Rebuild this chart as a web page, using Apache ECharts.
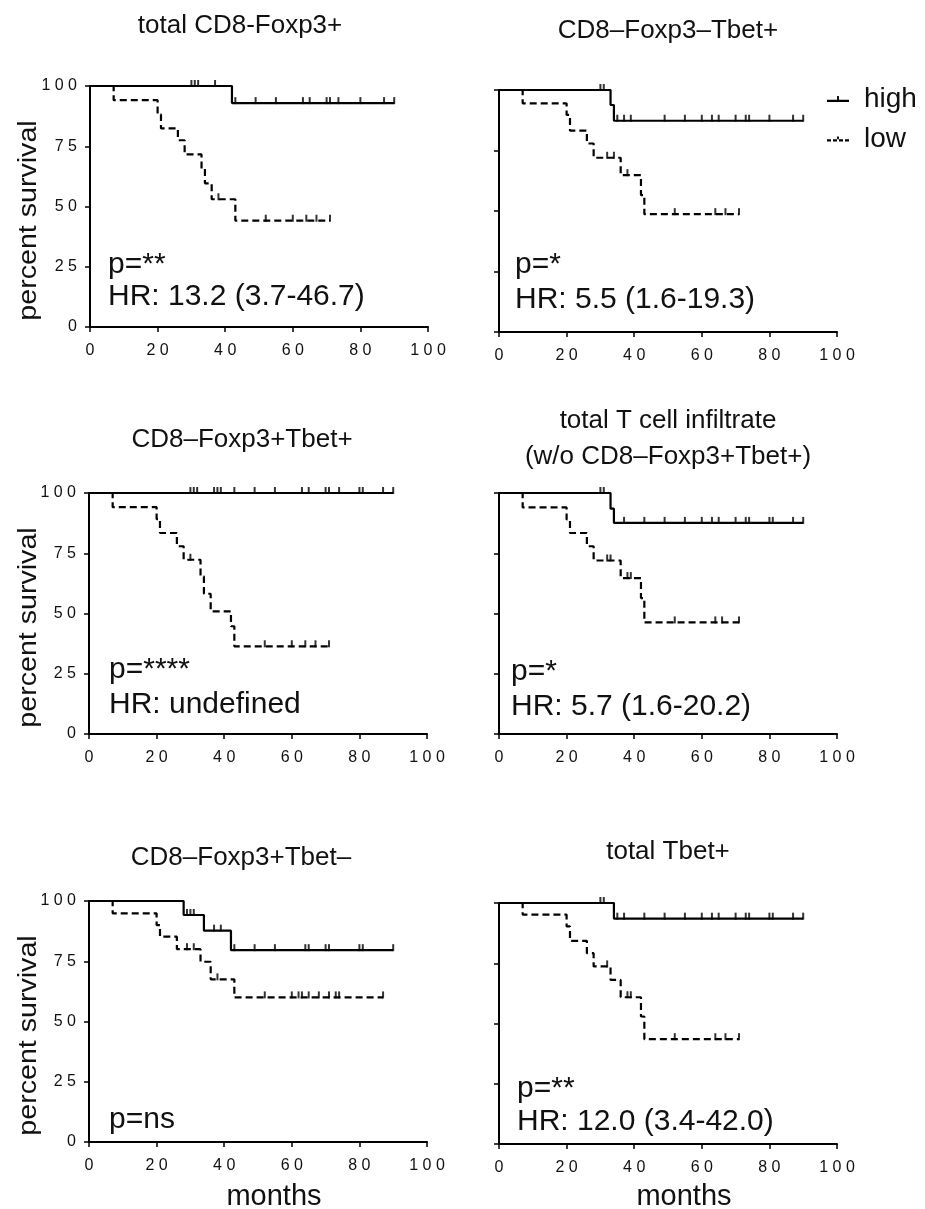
<!DOCTYPE html>
<html>
<head>
<meta charset="utf-8">
<title>survival curves</title>
<script src="https://cdn.jsdelivr.net/npm/echarts@6/dist/echarts.min.js"></script>
<style>
  html, body { margin: 0; padding: 0; background: #fff; }
  #main { width: 925px; height: 1209px; }
</style>
</head>
<body>
<div id="main"></div>
<script>
// tick labels
var xTicks = [0, 20, 40, 60, 80, 100];
var yTicks = [0, 25, 50, 75, 100];

var titles = [
  ['total CD8-Foxp3+'],
  ['CD8\u2013Foxp3\u2013Tbet+'],
  ['CD8\u2013Foxp3+Tbet+'],
  ['total T cell infiltrate', '(w/o CD8\u2013Foxp3+Tbet+)'],
  ['CD8\u2013Foxp3+Tbet\u2013'],
  ['total Tbet+']
];
var pTexts = ['p=**', 'p=*', 'p=****', 'p=*', 'p=ns', 'p=**'];
var hrTexts = ['HR: 13.2 (3.7-46.7)', 'HR: 5.5 (1.6-19.3)', 'HR: undefined', 'HR: 5.7 (1.6-20.2)', '', 'HR: 12.0 (3.4-42.0)'];
var groups = ['high', 'low'];

// [months, percent survival] after each event
var high1 = [[0, 100], [42, 92.9], [90, 92.9]];
var high1Cens = [30, 31, 32, 37, 43, 49, 55, 63, 65, 70, 71, 73.5, 80, 87, 90];
var low1 = [[0, 100], [7, 94.1], [20, 88.2], [21, 82.4], [26, 77.5], [28, 71.6], [33, 65.7], [34, 59.6], [36, 53], [43, 44.1], [71, 44.1]];
var low1Cens = [38, 52, 60, 64, 67, 71];

var high2 = [[0, 100], [33, 93.8], [34, 87.3], [90, 87.3]];
var high2Cens = [30, 31, 35, 37, 39, 49, 55, 60, 63, 65, 70, 73, 74, 80, 87, 90];
var low2 = [[0, 100], [7, 94.5], [20, 89.7], [21, 83.2], [26, 77.9], [28, 72], [36, 64.8], [42, 56.6], [43, 48.7], [71, 48.7]];
var low2Cens = [32, 34, 38, 52, 64, 67, 71];

var high3 = [[0, 100], [90, 100]];
var high3Cens = [30, 31, 32, 37, 38, 39, 43, 49, 55, 63, 65, 70, 71, 74, 80, 81, 87, 90];
var low3 = [[0, 100], [7, 94.1], [20, 89.2], [21, 83.4], [26, 77.9], [28, 72.3], [33, 65.4], [34, 58.2], [36, 50.9], [42, 44.7], [43, 36.4], [71, 36.4]];
var low3Cens = [30, 52, 60, 64, 67, 71];

var high4 = [[0, 100], [33, 93.5], [34, 87.6], [90, 87.6]];
var high4Cens = [30, 31, 37, 43, 49, 55, 60, 63, 65, 70, 73, 74, 80, 81, 87, 90];
var low4 = [[0, 100], [7, 94], [20, 89], [21, 83.4], [26, 77.9], [28, 72], [36, 64.7], [42, 56.4], [43, 46.3], [71, 46.3]];
var low4Cens = [32, 33, 38, 39, 52, 64, 66, 71];

var high5 = [[0, 100], [28, 94.2], [34, 87.7], [42, 79.6], [90, 79.6]];
var high5Cens = [29, 30, 31, 37, 39, 43, 49, 55, 64, 65, 70, 71, 80, 81, 90];
var low5 = [[0, 100], [7, 94.9], [20, 90], [21, 85.2], [26, 80], [33, 74.8], [36, 67.5], [43, 60], [87, 60]];
var low5Cens = [29, 31, 38, 52, 60, 62, 63, 65, 68, 71, 73, 74, 87];

var high6 = [[0, 100], [34, 93.5], [90, 93.5]];
var high6Cens = [30, 31, 35, 37, 43, 49, 55, 60, 63, 65, 70, 73, 74, 80, 81, 87, 90];
var low6 = [[0, 100], [7, 95.2], [20, 90.3], [21, 84.3], [26, 79.2], [28, 73.7], [33, 68.1], [36, 60.9], [42, 52.9], [43, 43.5], [71, 43.5]];
var low6Cens = [32, 38, 39, 52, 64, 67, 71];

var panels = [
  { high: high1, highCens: high1Cens, low: low1, lowCens: low1Cens },
  { high: high2, highCens: high2Cens, low: low2, lowCens: low2Cens },
  { high: high3, highCens: high3Cens, low: low3, lowCens: low3Cens },
  { high: high4, highCens: high4Cens, low: low4, lowCens: low4Cens },
  { high: high5, highCens: high5Cens, low: low5, lowCens: low5Cens },
  { high: high6, highCens: high6Cens, low: low6, lowCens: low6Cens }
];

// layout
var FONT = '"Liberation Sans", Arial, sans-serif';
var boxes = [
  { left: 90, top: 86, width: 338, height: 241 },
  { left: 499, top: 90, width: 338, height: 242 },
  { left: 89, top: 493, width: 338, height: 241 },
  { left: 499, top: 493, width: 338, height: 241 },
  { left: 89, top: 901, width: 338, height: 241 },
  { left: 499, top: 903, width: 338, height: 241 }
];
var titlePos = [[240, 26], [668, 31], [242, 440], [668, 421], [241, 858], [668, 852]];
var notePos = [[108, 265, 297], [515, 265, 300], [109, 670, 705], [511, 672, 707], [109, 1120, 0], [517, 1089, 1122]];

// survival value at time t (step curve)
function survAt(curve, t) {
  var s = curve[0][1];
  for (var i = 0; i < curve.length; i++) {
    if (curve[i][0] <= t) s = curve[i][1];
  }
  return s;
}

function spaced(v) {
  return String(v).split('').join(' ');
}

var grid = [], xAxis = [], yAxis = [], series = [], graphic = [];

boxes.forEach(function (b, i) {
  var leftCol = i % 2 === 0;
  grid.push({ left: b.left, top: b.top, width: b.width, height: b.height, containLabel: false });
  xAxis.push({
    type: 'value', gridIndex: i, min: xTicks[0], max: xTicks[xTicks.length - 1],
    interval: xTicks[1] - xTicks[0],
    axisLine: { show: true, onZero: false, lineStyle: { color: '#000', width: 2 } },
    axisTick: { show: true, length: 5, lineStyle: { color: '#000', width: 1.5 } },
    splitLine: { show: false },
    axisLabel: { color: '#111', fontSize: 16, fontFamily: FONT, margin: 16, formatter: spaced }
  });
  yAxis.push({
    type: 'value', gridIndex: i, min: yTicks[0], max: yTicks[yTicks.length - 1],
    interval: yTicks[1] - yTicks[0],
    axisLine: { show: true, onZero: false, lineStyle: { color: '#000', width: 2 } },
    axisTick: { show: true, length: 5, lineStyle: { color: '#000', width: 1.5 } },
    splitLine: { show: false },
    axisLabel: { show: leftCol, color: '#111', fontSize: 16, fontFamily: FONT, margin: 13, formatter: spaced }
  });

  var p = panels[i];
  series.push({
    name: 'high', type: 'line', step: 'end', xAxisIndex: i, yAxisIndex: i,
    data: p.high, showSymbol: false, symbol: 'none', silent: true,
    color: '#000', lineStyle: { color: '#000', width: 2.2 }, z: 3
  });
  series.push({
    name: 'low', type: 'line', step: 'end', xAxisIndex: i, yAxisIndex: i,
    data: p.low, showSymbol: false, symbol: 'none', silent: true,
    color: '#000', lineStyle: { color: '#000', width: 2.2, type: [7, 4] }, z: 3
  });
  series.push({
    name: 'high censored', type: 'scatter', xAxisIndex: i, yAxisIndex: i,
    data: p.highCens.map(function (t) { return [t, survAt(p.high, t)]; }),
    symbol: 'rect', symbolSize: [2, 7], symbolOffset: [0, -2.5], silent: true,
    itemStyle: { color: '#000' }, z: 4
  });
  series.push({
    name: 'low censored', type: 'scatter', xAxisIndex: i, yAxisIndex: i,
    data: p.lowCens.map(function (t) { return [t, survAt(p.low, t)]; }),
    symbol: 'rect', symbolSize: [2, 7], symbolOffset: [0, -2.5], silent: true,
    itemStyle: { color: '#000' }, z: 4
  });

  // panel title
  titles[i].forEach(function (line, k) {
    graphic.push({
      type: 'text', x: titlePos[i][0], y: titlePos[i][1] + k * 36,
      style: { text: line, font: '26px ' + FONT, fill: '#111', textAlign: 'center', textVerticalAlign: 'middle' }
    });
  });

  // p value and hazard ratio
  graphic.push({
    type: 'text', x: notePos[i][0], y: notePos[i][1],
    style: { text: pTexts[i], font: '30px ' + FONT, fill: '#111', textAlign: 'left', textVerticalAlign: 'middle' }
  });
  if (hrTexts[i]) {
    graphic.push({
      type: 'text', x: notePos[i][0], y: notePos[i][2],
      style: { text: hrTexts[i], font: '30px ' + FONT, fill: '#111', textAlign: 'left', textVerticalAlign: 'middle' }
    });
  }

  // axis names
  if (leftCol) {
    graphic.push({
      type: 'text', x: 29, y: b.top + b.height / 2 + 14, rotation: Math.PI / 2, scaleX: 1.1,
      style: { text: 'percent survival', font: '26px ' + FONT, fill: '#111', textAlign: 'center', textVerticalAlign: 'middle' }
    });
  }
  if (i >= 4) {
    graphic.push({
      type: 'text', x: b.left + b.width / 2 + 16, y: 1197,
      style: { text: 'months', font: '29px ' + FONT, fill: '#111', textAlign: 'center', textVerticalAlign: 'middle' }
    });
  }
});

var chart = echarts.init(document.getElementById('main'), null, { renderer: 'canvas' });
chart.setOption({
  backgroundColor: '#fff',
  animation: false,
  grid: grid,
  xAxis: xAxis,
  yAxis: yAxis,
  legend: {
    orient: 'vertical', left: 827, top: 84, padding: 0,
    itemWidth: 22, itemHeight: 6, itemGap: 10, symbolKeepAspect: true,
    selectedMode: false,
    textStyle: { fontSize: 28, fontFamily: FONT, color: '#111', lineHeight: 30, padding: [0, 0, 0, 10] },
    data: [
      { name: groups[0], icon: 'path://M0,3.8h22v2.2h-22z M10.1,0h1.8v3.8h-1.8z' },
      { name: groups[1], icon: 'path://M0,3.8h4v2.2h-4z M6,3.8h4v2.2h-4z M12,3.8h4v2.2h-4z M18,3.8h4v2.2h-4z M10.1,1.2h1.8v2.6h-1.8z' }
    ]
  },
  graphic: { elements: graphic },
  series: series
});
</script>
</body>
</html>
